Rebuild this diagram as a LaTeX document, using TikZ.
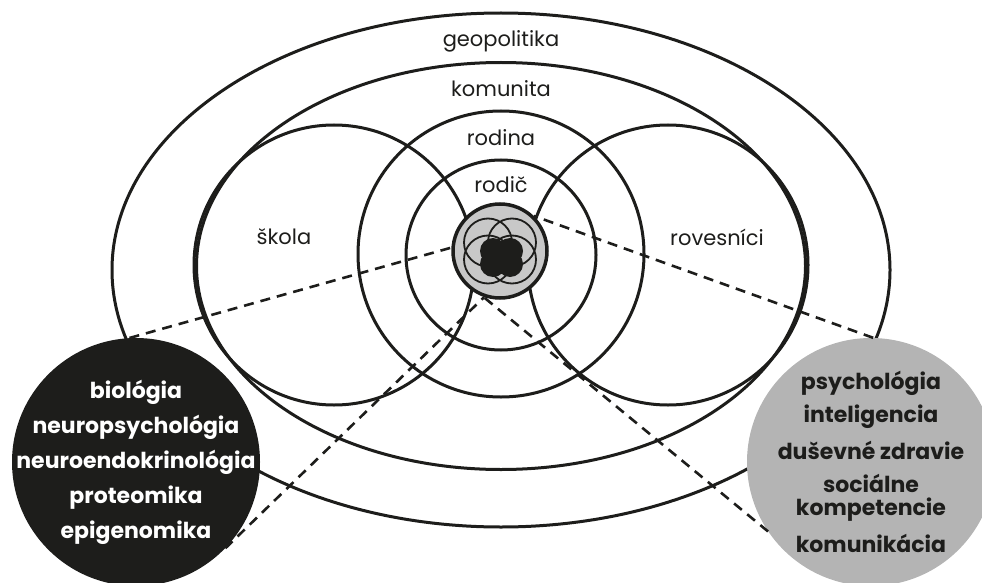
\documentclass[tikz,border=0pt]{standalone}
\usepackage{fontspec}
\setmainfont{Poppins}
\usetikzlibrary{
  positioning,
  shapes.geometric,
  calc
}
\definecolor{ink}{RGB}{29,29,27}
\definecolor{coregray}{RGB}{200,200,200}
\definecolor{psygray}{RGB}{180,180,180}

\begin{document}
\begin{tikzpicture}[x=1pt, y=-1pt,
  ring/.style={draw=ink, line width=3pt, inner sep=0pt},
  oval/.style={ring, ellipse},
  disc/.style={ring, circle},
  lbl/.style={font=\fontsize{21}{25}\selectfont, text=ink, inner sep=0pt},
  zoomline/.style={draw=ink, line width=2.6pt, dash pattern=on 10pt off 7pt},
  factor/.style={circle, minimum size=248pt, inner sep=0pt},
  factortext/.style={align=center, inner sep=0pt, font=\bfseries\fontsize{22}{35}\selectfont}]
  \useasboundingbox (0,0) rectangle (982,583);

  % spheres of influence
  \node[oval, minimum width=778pt, minimum height=514pt] (geo) at (501,270) {};
  \node[oval, minimum width=609pt, minimum height=407pt] (kom) at (501,266) {};
  \node[disc, minimum size=280pt] (skola) at (334,265) {};
  \node[disc, minimum size=280pt] (roves) at (668,265) {};
  \node[disc, minimum size=286pt] (rodina) at (501,254) {};
  \node[disc, minimum size=190pt] (rodic) at (501,255) {};

  \node[lbl, below=19pt of geo.north] {geopolitika};
  \node[lbl, below=19pt of kom.north] {komunita};
  \node[lbl, below=20pt of rodina.north] {rodina};
  \node[lbl, below=18pt of rodic.north] {rodič};
  \node[lbl] at (284,237) {škola};
  \node[lbl] at (717,237) {rovesníci};

  % the child in the middle
  \node[disc, line width=3.5pt, fill=coregray, minimum size=94pt] (core) at (500,251) {};
  \foreach \dx/\dy in {-12/-8.5, 12/-8.5, -12/8.5, 12/8.5}
    \draw[ink, line width=1.8pt] ($(core)+(\dx,\dy)$) circle[radius=24];
  \fill[ink] \foreach \dx/\dy in {-7/0, 10/0, -7/13, 10/13} {($(core)+(\dx,\dy)$) circle[radius=13]};

  % zoom out to the two inner worlds
  \node[factor, fill=ink] (bio) at (136,462) {};
  \node[factortext, text=white] at (bio) {biológia\\neuropsychológia\\neuroendokrinológia\\proteomika\\epigenomika};
  \node[factor, fill=psygray] (psy) at (871,462) {};
  \node[factortext, text=ink] at (psy) {psychológia\\[-2pt]inteligencia\\[2pt]duševné zdravie\\[-2pt]sociálne\\[-12pt]kompetencie\\[2pt]komunikácia};

  \draw[zoomline] (bio.93) -- (core.176);
  \draw[zoomline] (bio.-44) -- (core.251);
  \draw[zoomline] (psy.89) -- (core.46);
  \draw[zoomline] (psy.214) -- (core.250);
\end{tikzpicture}
\end{document}
